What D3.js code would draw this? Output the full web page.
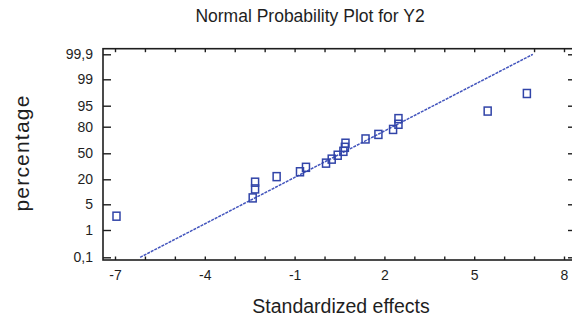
<!DOCTYPE html>
<html>
<head>
<meta charset="utf-8">
<script src="https://cdn.jsdelivr.net/npm/d3@7"></script>
<style>
  html, body { margin: 0; padding: 0; background: #fff; }
  svg { display: block; font-family: "Liberation Sans", Arial, sans-serif; }
</style>
</head>
<body>
<svg id="chart" width="572" height="320"></svg>
<script>
// Standardized effects, sorted, with their normal plotting positions (%)
const effects = [-6.95, -2.40, -2.32, -2.32, -1.60, -0.82, -0.62, 0.05, 0.24, 0.44,
                 0.63, 0.68, 0.70, 1.37, 1.80, 2.29, 2.47, 2.47, 5.45, 6.76];
const percents = [2.5, 7.5, 12.5, 17.5, 22.5, 27.5, 32.5, 37.5, 42.5, 47.5,
                  52.5, 57.5, 62.5, 67.5, 72.5, 77.5, 82.5, 87.5, 92.5, 97.5];

// Reference line through the effects
const lineEffects = [-6.16, 6.96];
const linePercents = [0.1, 99.9];

// Axis ticks
const xTicks = [-7, -6, -5, -4, -3, -2, -1, 0, 1, 2, 3, 4, 5, 6, 7, 8];
const xTickLabels = [-7, -4, -1, 2, 5, 8];
const yTickPercents = [0.1, 1, 5, 20, 50, 80, 95, 99, 99.9];
const yTickLabels = ["0,1", "1", "5", "20", "50", "80", "95", "99", "99,9"];

// Inverse of the standard normal CDF (Acklam's rational approximation)
function probit(p) {
  const a = [-39.69683028665376, 220.9460984245205, -275.9285104469687,
             138.3577518672690, -30.66479806614716, 2.506628277459239];
  const b = [-54.47609879822406, 161.5858368580409, -155.6989798598866,
             66.80131188771972, -13.28068155288572];
  const c = [-0.007784894002430293, -0.3223964580411365, -2.400758277161838,
             -2.549732539343734, 4.374664141464968, 2.938163982698783];
  const d = [0.007784695709041462, 0.3224671290700398, 2.445134137142996,
             3.754408661907416];
  const pl = 0.02425, ph = 1 - pl;
  let q, r;
  if (p < pl) {
    q = Math.sqrt(-2 * Math.log(p));
    return (((((c[0]*q+c[1])*q+c[2])*q+c[3])*q+c[4])*q+c[5]) /
           ((((d[0]*q+d[1])*q+d[2])*q+d[3])*q+1);
  }
  if (p <= ph) {
    q = p - 0.5; r = q * q;
    return (((((a[0]*r+a[1])*r+a[2])*r+a[3])*r+a[4])*r+a[5])*q /
           (((((b[0]*r+b[1])*r+b[2])*r+b[3])*r+b[4])*r+1);
  }
  q = Math.sqrt(-2 * Math.log(1 - p));
  return -(((((c[0]*q+c[1])*q+c[2])*q+c[3])*q+c[4])*q+c[5]) /
          ((((d[0]*q+d[1])*q+d[2])*q+d[3])*q+1);
}

const svg = d3.select("#chart");
const plot = { left: 103, right: 574, top: 48.7, bottom: 260 };

const x = d3.scaleLinear().domain([-7, 8]).range([115, 564]);

// Probability axis: normal quantiles, laid out on the axis' tick grid
const zScale = d3.scaleLinear()
  .domain(yTickPercents.map(p => probit(p / 100)))
  .range([257.3, 230, 204.3, 179.3, 153.3, 126.7, 105.7, 79.3, 54.3]);
const y = p => zScale(probit(p / 100));

const ink = "#1e1e1e";
const blue = "#3144a8";

// Title and axis titles
svg.append("text")
  .attr("x", 310).attr("y", 22)
  .attr("text-anchor", "middle")
  .attr("font-size", 17.5).attr("fill", ink)
  .text("Normal Probability Plot for Y2");

svg.append("text")
  .attr("x", 341).attr("y", 313)
  .attr("text-anchor", "middle")
  .attr("font-size", 19.5).attr("fill", ink)
  .text("Standardized effects");

svg.append("text")
  .attr("transform", "translate(29,153) rotate(-90)")
  .attr("text-anchor", "middle")
  .attr("font-size", 21).attr("letter-spacing", 1.2).attr("fill", ink)
  .text("percentage");

// Axes (ticks drawn inward on all four sides)
const bottomAxis = d3.axisBottom(x).tickValues(xTicks).tickSizeInner(-3.5).tickSizeOuter(0)
  .tickFormat(d => xTickLabels.includes(d) ? String(d) : "");
const topAxis = d3.axisTop(x).tickValues(xTicks).tickSizeInner(-3.5).tickSizeOuter(0).tickFormat("");
const leftAxis = d3.axisLeft(zScale).tickValues(yTickPercents.map(p => probit(p / 100)))
  .tickSizeInner(-8).tickSizeOuter(0)
  .tickFormat((d, i) => yTickLabels[i]);
const rightAxis = d3.axisRight(zScale).tickValues(yTickPercents.map(p => probit(p / 100)))
  .tickSizeInner(-6).tickSizeOuter(0).tickFormat("");

function style(g) {
  g.select(".domain").remove();
  g.selectAll(".tick line").attr("stroke", ink).attr("stroke-width", 1.4);
  g.selectAll(".tick text").attr("fill", ink).attr("font-size", 14)
    .attr("font-family", "\"Liberation Sans\", Arial, sans-serif");
}

svg.append("g").attr("transform", `translate(0,${plot.bottom})`).call(bottomAxis).call(style)
  .selectAll(".tick text").attr("y", 10).attr("dy", "0.71em");
svg.append("g").attr("transform", `translate(0,${plot.top})`).call(topAxis).call(style);
svg.append("g").attr("transform", `translate(${plot.left},0)`).call(leftAxis).call(style)
  .selectAll(".tick text").attr("x", -10);
svg.append("g").attr("transform", `translate(${plot.right},0)`).call(rightAxis).call(style);

// Plot frame
svg.append("rect")
  .attr("x", plot.left).attr("y", plot.top)
  .attr("width", plot.right - plot.left).attr("height", plot.bottom - plot.top)
  .attr("fill", "none").attr("stroke", ink).attr("stroke-width", 1.6);

// Reference line
svg.append("path")
  .datum(d3.zip(lineEffects, linePercents))
  .attr("d", d3.line().x(d => x(d[0])).y(d => y(d[1])))
  .attr("fill", "none").attr("stroke", "#4355bd")
  .attr("stroke-width", 1.5).attr("stroke-dasharray", "3,1");

// Effects as open squares
svg.append("g").selectAll("rect")
  .data(d3.zip(effects, percents))
  .join("rect")
  .attr("x", d => x(d[0]) - 3.5).attr("y", d => y(d[1]) - 4)
  .attr("width", 7).attr("height", 8)
  .attr("fill", "none").attr("stroke", blue).attr("stroke-width", 1.5);
</script>
</body>
</html>
